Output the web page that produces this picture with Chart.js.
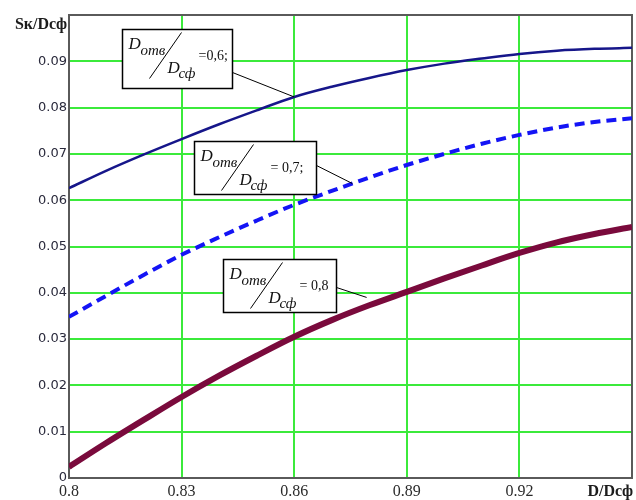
<!DOCTYPE html>
<html>
<head>
<meta charset="utf-8">
<script src="https://cdn.jsdelivr.net/npm/chart.js@4"></script>
<style>
  html, body { margin: 0; padding: 0; background: #fff; }
  #wrap { width: 636px; height: 500px; }
</style>
</head>
<body>
<div id="wrap"><canvas id="chart" width="636" height="500"></canvas></div>
<script>
// D/Dсф
const xValues = [0.80, 0.81, 0.82, 0.83, 0.84, 0.85, 0.86, 0.87, 0.88, 0.89, 0.90, 0.91, 0.92, 0.93, 0.94, 0.95];
// Sк/Dсф for Dотв/Dсф = 0,6 / 0,7 / 0,8
const ratio06 = [0.0626, 0.0664, 0.0699, 0.0732, 0.0764, 0.0794, 0.0823, 0.0845, 0.0864, 0.0881, 0.0895, 0.0906, 0.0916, 0.0923, 0.0927, 0.0929];
const ratio07 = [0.0348, 0.0394, 0.0439, 0.0482, 0.0520, 0.0556, 0.0590, 0.0620, 0.0649, 0.0676, 0.0700, 0.0722, 0.0741, 0.0757, 0.0769, 0.0777];
const ratio08 = [0.0024, 0.0076, 0.0126, 0.0175, 0.0221, 0.0264, 0.0305, 0.0341, 0.0373, 0.0402, 0.0431, 0.0459, 0.0486, 0.0509, 0.0527, 0.0542];

const xTicks = [0.8, 0.83, 0.86, 0.89, 0.92, 0.95];
const xTickLabels = ['0.8', '0.83', '0.86', '0.89', '0.92', ''];
const yTicks = [0, 0.01, 0.02, 0.03, 0.04, 0.05, 0.06, 0.07, 0.08, 0.09, 0.1];
const yTickLabels = ['0', '0.01', '0.02', '0.03', '0.04', '0.05', '0.06', '0.07', '0.08', '0.09', ''];

const yTitle = 'Sк/Dсф';
const xTitle = 'D/Dсф';

// подписи кривых: левый верхний угол рамки и точка на кривой (в единицах осей)
const callouts = [
  { value: '=0,6;',  left: 0.8141, top: 0.0970, w: 110, h: 59, lineDy: 43, target: [0.86, 0.0823] },
  { value: '= 0,7;', left: 0.8332, top: 0.0728, w: 122, h: 53, lineDy: 24, target: [0.8755, 0.0636] },
  { value: '= 0,8',  left: 0.8410, top: 0.0473, w: 113, h: 53, lineDy: 28, target: [0.8793, 0.0390] }
];

const toPoints = ys => ys.map((y, i) => ({ x: xValues[i], y: y }));

// рамка вокруг области графика + подписи осей
const framePlugin = {
  id: 'frame',
  beforeDatasetsDraw(chart) {
    const { ctx, chartArea: a } = chart;
    ctx.save();
    ctx.strokeStyle = '#5a5a5a';
    ctx.lineWidth = 2;
    ctx.strokeRect(a.left, a.top, a.right - a.left, a.bottom - a.top);
    ctx.restore();
  },
  afterDraw(chart) {
    const { ctx, chartArea: a } = chart;
    ctx.save();
    ctx.fillStyle = '#1c1c1c';
    ctx.font = 'bold 16px "Liberation Serif", serif';
    ctx.textAlign = 'right';
    ctx.textBaseline = 'alphabetic';
    ctx.fillText(yTitle, a.left - 2, a.top + 14);
    ctx.fillText(xTitle, a.right + 1, a.bottom + 18);
    ctx.restore();
  }
};

// рамки с подписями Dотв/Dсф
const calloutPlugin = {
  id: 'callouts',
  afterDatasetsDraw(chart) {
    const { ctx } = chart;
    const xs = chart.scales.x, ys = chart.scales.y;
    ctx.save();
    callouts.forEach(c => {
      const L = Math.round(xs.getPixelForValue(c.left)) + 0.5;
      const T = Math.round(ys.getPixelForValue(c.top)) + 0.5;
      const tx = xs.getPixelForValue(c.target[0]);
      const ty = ys.getPixelForValue(c.target[1]);

      // выноска
      ctx.strokeStyle = '#000';
      ctx.lineWidth = 1;
      ctx.beginPath();
      ctx.moveTo(L + c.w, T + c.lineDy);
      ctx.lineTo(tx, ty);
      ctx.stroke();

      ctx.fillStyle = '#fff';
      ctx.fillRect(L, T, c.w, c.h);
      ctx.lineWidth = 1.5;
      ctx.strokeRect(L, T, c.w, c.h);

      ctx.fillStyle = '#111';
      ctx.textAlign = 'left';
      ctx.textBaseline = 'alphabetic';
      ctx.font = 'italic 17px "Liberation Serif", serif';
      ctx.fillText('D', L + 6, T + 19);
      ctx.font = 'italic 15px "Liberation Serif", serif';
      ctx.fillText('отв', L + 18, T + 25);
      ctx.font = 'italic 17px "Liberation Serif", serif';
      ctx.fillText('D', L + 45, T + 43);
      ctx.font = 'italic 15px "Liberation Serif", serif';
      ctx.fillText('сф', L + 56, T + 48);

      ctx.lineWidth = 1;
      ctx.beginPath();
      ctx.moveTo(L + 27, T + 49);
      ctx.lineTo(L + 59, T + 3);
      ctx.stroke();

      ctx.font = '14px "Liberation Serif", serif';
      ctx.fillText(c.value, L + 76, T + 30);
    });
    ctx.restore();
  }
};

const gridColor = '#3bea3b';

new Chart(document.getElementById('chart'), {
  type: 'line',
  data: {
    datasets: [
      {
        label: 'Dотв/Dсф = 0,6',
        data: toPoints(ratio06),
        borderColor: '#16168a',
        borderWidth: 2.5,
        pointRadius: 0,
        cubicInterpolationMode: 'monotone'
      },
      {
        label: 'Dотв/Dсф = 0,7',
        data: toPoints(ratio07),
        borderColor: '#1414f5',
        borderWidth: 4,
        borderDash: [10, 6],
        pointRadius: 0,
        cubicInterpolationMode: 'monotone'
      },
      {
        label: 'Dотв/Dсф = 0,8',
        data: toPoints(ratio08),
        borderColor: '#7a0a3c',
        borderWidth: 6,
        pointRadius: 0,
        cubicInterpolationMode: 'monotone'
      }
    ]
  },
  options: {
    responsive: false,
    animation: false,
    devicePixelRatio: 1,
    layout: { padding: { top: 15, right: 3, bottom: 0, left: 0 } },
    plugins: {
      legend: { display: false },
      tooltip: { enabled: false }
    },
    scales: {
      x: {
        type: 'linear',
        min: 0.8,
        max: 0.95,
        afterBuildTicks: scale => { scale.ticks = xTicks.map(v => ({ value: v })); },
        afterFit: scale => { scale.height = 22; },
        grid: { color: gridColor, lineWidth: 2, drawTicks: false },
        border: { display: false },
        ticks: {
          autoSkip: false,
          maxRotation: 0,
          padding: 4,
          color: '#2a2a2a',
          font: { family: '"Liberation Serif", serif', size: 16 },
          callback: (v, i) => xTickLabels[i]
        }
      },
      y: {
        min: 0,
        max: 0.1,
        afterBuildTicks: scale => { scale.ticks = yTicks.map(v => ({ value: v })); },
        afterFit: scale => { scale.width = 69; },
        grid: { color: gridColor, lineWidth: 2, drawTicks: false },
        border: { display: false },
        ticks: {
          autoSkip: false,
          padding: 2,
          color: '#2a2a3c',
          font: { family: '"DejaVu Sans", sans-serif', size: 13 },
          callback: (v, i) => yTickLabels[i]
        }
      }
    }
  },
  plugins: [framePlugin, calloutPlugin]
});
</script>
</body>
</html>
